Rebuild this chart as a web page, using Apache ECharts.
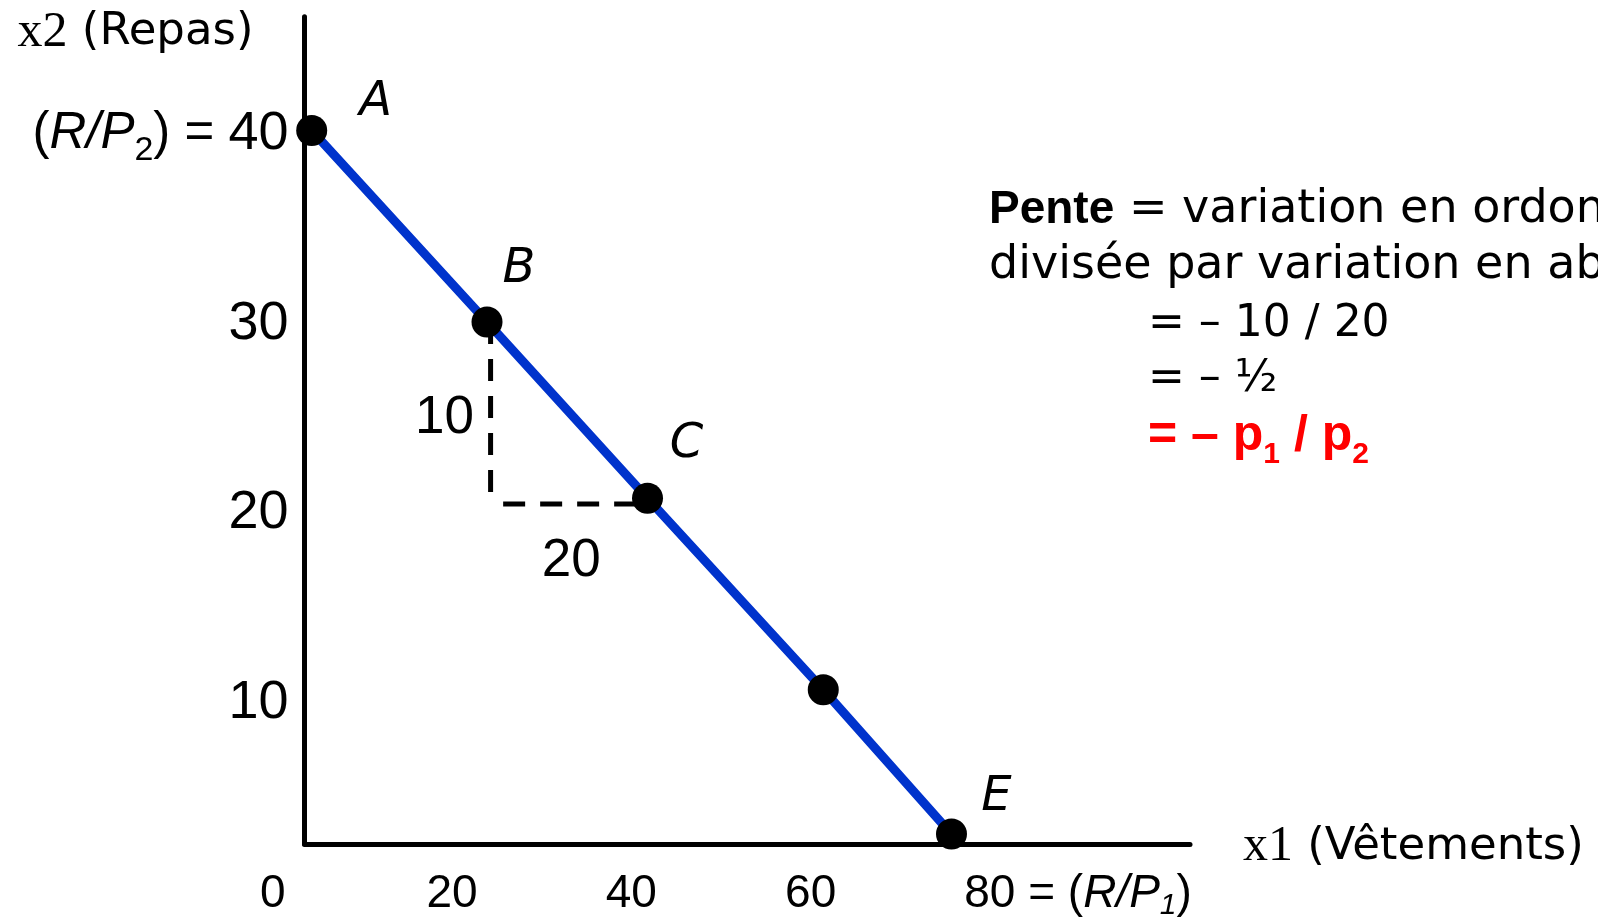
<!DOCTYPE html>
<html lang="fr">
<head>
    <meta charset="UTF-8">
    <title>Droite de budget</title>
    <script src="https://cdn.jsdelivr.net/npm/echarts@6/dist/echarts.min.js"></script>
    <style>
        * {
            margin: 0;
            padding: 0
        }

        html, body {
            width: 100%;
            height: 100%;
            background: #fff;
        }

        #main {
            width: 1598px;
            height: 918px;
        }
    </style>
</head>
<body>
<div id="main"></div>
<script type="text/javascript">
    /*-------------------- données --------------------*/
    // points sur la droite de budget (x1 = vêtements, x2 = repas)
    var pointNames = ['A', 'B', 'C', 'D', 'E'];
    var pointX = [4.35, 23.9, 41.8, 61.4, 75.7];
    var pointY = [40.2, 30.1, 20.8, 10.7, 3.1];
    var pointLabels = ['A', 'B', 'C', '', 'E'];

    // triangle en pointillés entre B et C
    var dashVertX = [24.3, 24.3];
    var dashVertY = [30.1, 21.1];
    var dashHorX = [25.7, 41.8];
    var dashHorY = [20.5, 20.5];
    var dashLabels = ['10', '20'];

    // graduations
    var xTicks = [0, 20, 40, 60];
    var xIncomeTick = [80];
    var yTicks = [10, 20, 30, 40];

    // étendue des axes (le cadre ne part pas de 0)
    var xStart = 3.55, xEnd = 102.3;
    var yStart = 2.57, yEnd = 46.2;

    /*-------------------- styles --------------------*/
    var black = '#000000';
    var blue = '#0033cc';
    var sans = 'DejaVu Sans';
    var num = 'Liberation Sans';
    var serif = 'Liberation Serif';

    var labelOffsets = {A: [64, -28], B: [32, -52], C: [39, -54], D: [0, 0], E: [45, -36]};
    var dashLabelOffsets = [[-46, 11], [-4, 57]];

    var budgetData = pointX.map(function (x, i) {
        return {
            name: pointNames[i],
            value: [x, pointY[i]],
            label: {
                show: pointLabels[i] !== '',
                formatter: pointLabels[i],
                offset: labelOffsets[pointNames[i]]
            }
        };
    });
    var dashVert = dashVertX.map(function (x, i) { return [x, dashVertY[i]]; });
    var dashHor = dashHorX.map(function (x, i) { return [x, dashHorY[i]]; });
    // étiquettes au milieu de chaque segment
    var dashMid = [
        [(dashVertX[0] + dashVertX[1]) / 2, (dashVertY[0] + dashVertY[1]) / 2],
        [(dashHorX[0] + dashHorX[1]) / 2, (dashHorY[0] + dashHorY[1]) / 2]
    ];

    var xRich = {
        m: {fontFamily: num, fontSize: 46, lineHeight: 60, color: black},
        n: {fontFamily: num, fontSize: 46, lineHeight: 60, color: black, padding: [0, 0, 0, 176]},
        i: {fontFamily: num, fontSize: 46, lineHeight: 60, color: black, fontStyle: 'italic'},
        s: {fontFamily: num, fontSize: 30, lineHeight: 30, color: black, fontStyle: 'italic', padding: [23, 0, 0, 0]}
    };
    var nameRich = {
        s: {fontFamily: serif, fontSize: 50, color: black},
        t: {fontFamily: sans, fontSize: 45, color: black}
    };

    var chart = echarts.init(document.getElementById('main'));
    chart.setOption({
        animation: false,
        textStyle: {fontFamily: sans, color: black},
        grid: [
            // grille des valeurs (0 en bas à gauche)
            {left: 272.7, right: 408, top: 16.7, bottom: 25.3, outerBoundsMode: 'none'},
            // cadre des axes dessinés
            {left: 304.5, right: 408, top: 16.7, bottom: 74, outerBoundsMode: 'none'}
        ],
        xAxis: [
            {
                gridIndex: 0, type: 'value', position: 'bottom', min: 0, max: xEnd, offset: -48.7,
                axisLine: {show: false, onZero: false},
                axisTick: {show: false},
                splitLine: {show: false},
                axisLabel: {
                    customValues: xTicks,
                    margin: 20,
                    formatter: function (v) { return '{m|' + v + '}'; },
                    rich: xRich
                }
            },
            {
                gridIndex: 1, type: 'value', position: 'bottom', min: xStart, max: xEnd,
                axisLine: {show: true, onZero: false, lineStyle: {color: black, width: 5}},
                axisTick: {show: false},
                axisLabel: {show: false},
                splitLine: {show: false},
                name: '{s|x1}{t| (Vêtements)}',
                nameLocation: 'end',
                nameGap: 53,
                nameTextStyle: {
                    align: 'left', verticalAlign: 'middle', padding: [6, 0, 0, 0],
                    rich: nameRich
                }
            },
            {
                // revenu / prix du bien 1
                gridIndex: 0, type: 'value', position: 'bottom', min: 0, max: xEnd, offset: -48.7,
                axisLine: {show: false, onZero: false},
                axisTick: {show: false},
                splitLine: {show: false},
                axisLabel: {
                    customValues: xIncomeTick,
                    margin: 20,
                    formatter: function (v) {
                        return '{n|' + v + '}{m| = (}{i|R/P}{s|1}{m|)}';
                    },
                    rich: xRich
                }
            }
        ],
        yAxis: [
            {
                gridIndex: 0, type: 'value', position: 'left', min: 0, max: yEnd, offset: -31.8,
                axisLine: {show: false, onZero: false},
                axisTick: {show: false},
                splitLine: {show: false},
                axisLabel: {
                    customValues: yTicks,
                    margin: 16,
                    formatter: function (v) {
                        if (v === 40) {
                            return '{p|(}{i|R/P}{s|2}{p|) = }{m|40}';
                        }
                        return '{m|' + v + '}';
                    },
                    rich: {
                        m: {fontFamily: num, fontSize: 54, lineHeight: 80, color: black},
                        p: {fontFamily: num, fontSize: 51, lineHeight: 80, color: black},
                        i: {fontFamily: num, fontSize: 51, lineHeight: 80, color: black, fontStyle: 'italic'},
                        s: {fontFamily: num, fontSize: 34, lineHeight: 34, color: black, padding: [33, 0, 0, 0]}
                    }
                }
            },
            {
                gridIndex: 1, type: 'value', position: 'left', min: yStart, max: yEnd,
                axisLine: {show: true, onZero: false, lineStyle: {color: black, width: 5}},
                axisTick: {show: false},
                axisLabel: {show: false},
                splitLine: {show: false},
                name: '{s|x2}{t| (Repas)}',
                nameLocation: 'end',
                nameGap: -16,
                nameTextStyle: {
                    align: 'right', verticalAlign: 'middle', padding: [0, 51, 0, 0],
                    rich: nameRich
                }
            }
        ],
        series: [
            {
                name: 'dy', type: 'line', xAxisIndex: 0, yAxisIndex: 0,
                data: dashVert, symbol: 'none', silent: true, z: 2,
                lineStyle: {color: black, width: 5, type: [22, 15]}
            },
            {
                name: 'dx', type: 'line', xAxisIndex: 0, yAxisIndex: 0,
                data: dashHor, symbol: 'none', silent: true, z: 2,
                lineStyle: {color: black, width: 5, type: [22, 15]}
            },
            {
                name: 'variations', type: 'scatter', xAxisIndex: 0, yAxisIndex: 0,
                data: dashMid, symbolSize: 0, silent: true, z: 2,
                itemStyle: {color: black},
                label: {
                    show: true,
                    position: 'inside',
                    formatter: function (p) { return dashLabels[p.dataIndex]; },
                    fontFamily: num, fontSize: 53, color: '#000000', opacity: 1,
                    textBorderWidth: 0
                },
                labelLayout: function (p) {
                    return {dx: dashLabelOffsets[p.dataIndex][0], dy: dashLabelOffsets[p.dataIndex][1]};
                }
            },
            {
                name: 'budget', type: 'line', xAxisIndex: 0, yAxisIndex: 0,
                data: budgetData, symbol: 'circle', symbolSize: 31, showSymbol: true, silent: true, z: 3,
                lineStyle: {color: blue, width: 9},
                itemStyle: {color: black},
                emphasis: {disabled: true},
                label: {
                    position: 'inside',
                    fontFamily: sans, fontSize: 48, fontStyle: 'italic', color: black
                }
            }
        ],
        graphic: [
            {
                type: 'text', x: 989, y: 210, z: 100,
                style: {
                    text: '{b|Pente}{r| = variation en ordonnée}',
                    verticalAlign: 'middle',
                    rich: {
                        b: {fontFamily: num, fontWeight: 'bold', fontSize: 46, fill: black},
                        r: {fontFamily: sans, fontSize: 46, fill: black}
                    }
                }
            },
            {
                type: 'text', x: 989, y: 266, z: 100,
                style: {text: 'divisée par variation en abscisse', fontFamily: sans, fontSize: 46, fill: black, verticalAlign: 'middle'}
            },
            {
                type: 'text', x: 1148, y: 325, z: 100,
                style: {text: '= – 10 / 20', fontFamily: sans, fontSize: 44, fill: black, verticalAlign: 'middle'}
            },
            {
                type: 'text', x: 1148, y: 380, z: 100,
                style: {text: '= – ½', fontFamily: sans, fontSize: 44, fill: black, verticalAlign: 'middle'}
            },
            {
                type: 'text', x: 1148, y: 436, z: 100,
                style: {
                    text: '{m|= – p}{s|1}{m| / p}{s|2}',
                    verticalAlign: 'middle',
                    rich: {
                        m: {fontFamily: num, fontWeight: 'bold', fontSize: 50, lineHeight: 74, fill: '#ff0000'},
                        s: {fontFamily: num, fontWeight: 'bold', fontSize: 30, lineHeight: 30, fill: '#ff0000', padding: [38, 0, 0, 0]}
                    }
                }
            }
        ]
    });
</script>
</body>
</html>
